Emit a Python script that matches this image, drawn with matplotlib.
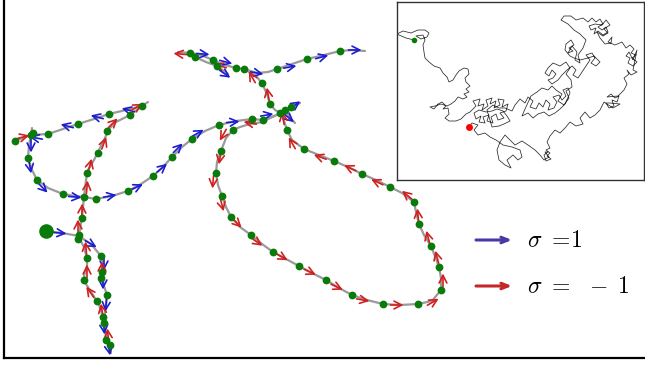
import numpy as np
import matplotlib
matplotlib.use("Agg")
import matplotlib.pyplot as plt

plt.rcParams['mathtext.fontset'] = 'cm'

# --- main walk (coordinates, y grows downward) ---
path_segments = [
    [(46, 231), (62, 233), (79, 236), (91, 244), (101, 256), (104, 266), (102, 275), (104, 286),
     (107, 295), (106, 306), (104, 320), (105, 330), (107, 340), (110, 347), (111, 353)],
    [(104, 320), (99, 305), (93, 295), (86, 284), (84, 276), (87, 266), (87, 258), (84, 247),
     (79, 238), (80, 228), (82, 218), (83, 207), (84, 197), (86, 180), (88, 170), (94, 160),
     (100, 148), (105, 138), (108, 130), (116, 122), (130, 115), (142, 106), (148, 102)],
    [(32, 128), (31, 135), (48, 134), (63, 129), (78, 124), (94, 119), (109, 114), (126, 110), (142, 106)],
    [(15, 141), (25, 137), (31, 135), (29, 145), (28, 158), (32, 170), (37, 180), (48, 188),
     (63, 194), (75, 196), (84, 197), (96, 199), (112, 196), (128, 191), (141, 184), (153, 176),
     (163, 167), (172, 157), (182, 147), (192, 139), (205, 131), (219, 125), (236, 121),
     (252, 119), (263, 120), (272, 117), (281, 113), (292, 107), (300, 103)],
    [(281, 113), (270, 118), (263, 122), (250, 124), (240, 127), (233, 130), (226, 138), (221, 151),
     (217, 162), (216, 173), (218, 185), (222, 196), (226, 207), (231, 217), (240, 227), (251, 235),
     (262, 244), (273, 252), (286, 259), (299, 266), (312, 273), (326, 280), (339, 288), (352, 295),
     (367, 300), (383, 304), (400, 305), (418, 304), (432, 301), (441, 290), (441, 278), (439, 267),
     (435, 256), (431, 246), (424, 235), (419, 224), (416, 212), (414, 202), (402, 193), (390, 187),
     (376, 180), (362, 174), (348, 167), (334, 161), (319, 155), (304, 149), (292, 140), (287, 130),
     (284, 121), (281, 113)],
    [(178, 52), (190, 53), (201, 55), (213, 60), (225, 65), (236, 68), (244, 69), (257, 73),
     (268, 72), (277, 69), (292, 64), (307, 59), (324, 55), (340, 51), (352, 50), (365, 51)],
    [(195, 57), (206, 62), (217, 66), (228, 74)],
    [(281, 113), (275, 110), (270, 104), (267, 94), (262, 83), (256, 76), (244, 69)],
    [(285, 110), (291, 119), (295, 123)],
]

dot_x = [79, 78, 101, 102, 101, 107, 103, 104, 106, 110, 87, 84, 97, 82,
         15, 31, 33, 48, 78, 109, 130, 142, 28, 37, 63, 84, 96, 128, 153, 172, 192, 87, 98, 107,
         190, 195, 213, 217, 236, 244, 277, 307, 340, 262, 270, 280, 285, 291, 287, 219, 233, 252, 263,
         304, 334, 362, 390, 414, 419, 431, 439, 441, 418, 383, 352, 326, 299, 273, 251, 231, 222, 216, 221]
dot_y = [235, 239, 256, 272, 278, 295, 317, 323, 340, 345, 258, 280, 301, 218,
         141, 135, 133, 134, 124, 114, 115, 106, 158, 180, 194, 197, 199, 191, 176, 157, 139, 173, 153, 131,
         53, 57, 60, 66, 68, 69, 69, 59, 51, 83, 104, 113, 110, 107, 130, 125, 130, 119, 120,
         149, 161, 174, 187, 202, 224, 246, 267, 290, 304, 304, 295, 280, 266, 252, 235, 217, 196, 173, 151]
start_x, start_y = 46, 231

# arrows: centre, screen angle (deg, counter-clockwise from right), spin
arr_x = [60, 91, 104, 103, 106, 104, 108, 109, 102, 102, 90, 87, 86, 78, 82,
         23, 36, 31, 67, 97, 128, 137, 113, 104, 90, 87, 30, 43, 75, 110, 137, 162, 178, 198,
         180, 203, 226, 220, 225, 257, 252, 268, 290, 322, 355,
         233, 250, 267, 223, 295, 289, 283,
         292, 320, 350, 377, 407, 418, 428, 437, 443, 433, 397, 363, 337, 310, 282, 257, 237, 222, 213, 220]
arr_y = [233, 244, 264, 283, 305, 328, 335, 349, 268, 310, 292, 271, 248, 226, 210,
         137, 138, 146, 126, 117, 110, 107, 123, 143, 165, 187, 167, 188, 197, 196, 187, 168, 148, 133,
         54, 54, 62, 66, 74, 73, 77, 94, 67, 57, 50,
         122, 123, 115, 135, 105, 118, 118,
         143, 157, 168, 182, 195, 215, 237, 257, 280, 302, 305, 300, 287, 272, 257, 242, 223, 205, 182, 158]
arr_ang = [-5, -30, -90, -90, -95, -85, 95, -80, 90, 100, 125, 90, 95, 90, 88,
           15, 170, -90, 165, 165, 165, 30, 45, 70, 75, 85, -80, -45, -5, 10, 25, 40, 45, 30,
           175, -5, -15, 165, -35, -10, 120, 100, 10, 15, 0,
           5, 170, 10, -120, 35, -40, 100,
           120, 160, 155, 155, 140, 95, 105, 105, 90, 30, 0, -10, -25, -25, -30, -35, -45, -75, -95, -100]
arr_sigma = [1, 1, 1, 1, 1, 1, -1, 1, -1, -1, -1, -1, -1, -1, -1,
             -1, 1, 1, 1, 1, 1, -1, -1, -1, -1, -1, 1, 1, 1, 1, 1, 1, 1, 1,
             -1, 1, 1, -1, 1, 1, -1, -1, 1, 1, 1,
             1, -1, 1, -1, 1, 1, -1,
             -1, -1, -1, -1, -1, -1, -1, -1, -1, -1, -1, -1, -1, -1, -1, -1, -1, -1, -1, -1]

# --- long walk in the inset, read as pieces in walking order ---
inset_head = [
    (414, 40), (406, 38), (399, 35), (397, 34), (403, 31), (411, 33), (418, 30), (425, 30), (429, 33),
    (427, 37), (421, 39), (416, 36), (423, 35), (425, 40), (423, 45), (424, 52), (425, 58), (429, 62),
    (434, 66), (440, 68), (443, 73), (447, 77), (449, 82), (453, 80), (456, 75), (459, 71), (464, 68),
    (468, 69), (469, 74), (465, 78), (466, 82), (470, 86), (466, 89), (469, 92), (464, 94), (467, 97),
    (463, 99), (458, 97), (455, 101), (451, 104), (447, 106), (441, 104), (435, 106), (430, 107),
    (434, 109), (438, 104), (442, 102), (446, 106), (443, 109), (448, 108), (449, 114), (445, 118),
    (449, 121), (456, 121), (461, 119),
]
inset_dense_left = [
    (466, 114), (470, 112), (476, 106), (473, 101), (480, 99), (478, 106), (484, 104), (482, 110),
    (488, 106), (486, 100), (492, 98), (490, 104), (496, 101), (494, 108), (500, 105), (498, 99),
    (504, 100), (502, 107), (508, 104), (506, 111), (500, 113), (504, 118), (498, 120), (496, 114),
    (491, 117), (493, 123), (487, 121), (489, 115), (483, 117), (485, 123), (479, 122), (481, 116),
    (476, 119), (474, 113), (479, 110), (486, 112), (492, 111), (497, 109), (503, 111), (507, 116),
    (510, 121), (504, 124), (499, 126), (492, 127), (487, 110), (493, 105), (499, 108), (505, 108),
]
inset_dense_mid = [
    (512, 111), (515, 105), (520, 99), (525, 103), (528, 97), (533, 101), (530, 107), (536, 109),
    (539, 103), (543, 107), (546, 100), (550, 104), (548, 110), (554, 108), (557, 102), (553, 97),
    (559, 95), (562, 100), (566, 96), (563, 90), (568, 88), (570, 93), (565, 104), (560, 109),
    (555, 113), (549, 116), (544, 112), (538, 114), (533, 118), (528, 113), (522, 116), (525, 109),
    (531, 96), (537, 92), (542, 88), (548, 90), (552, 86), (556, 90), (562, 94), (558, 101),
    (564, 105), (569, 98), (566, 91), (572, 87),
]
inset_up = [
    (571, 80), (566, 74), (570, 68), (566, 62), (560, 66), (553, 63), (548, 68), (545, 73),
    (549, 76), (552, 70), (556, 74), (553, 78), (548, 80), (552, 84), (558, 80), (562, 75),
    (567, 70), (572, 66), (576, 70), (573, 75), (578, 78), (582, 72), (586, 66), (590, 60),
    (586, 55), (592, 53), (595, 58), (591, 63), (596, 66), (600, 62), (594, 56), (588, 58),
    (580, 60), (574, 58), (570, 56), (565, 50), (566, 44), (571, 40), (574, 45), (569, 48),
    (573, 51), (568, 53), (572, 46), (577, 52), (575, 60), (580, 63), (578, 55), (583, 48),
    (586, 40), (580, 34), (574, 30), (568, 24), (561, 20), (564, 16), (571, 16), (576, 20),
    (583, 18), (588, 22), (592, 18), (596, 22), (600, 19), (603, 24), (598, 27), (602, 30),
    (606, 27), (608, 32), (603, 35), (598, 31), (594, 34), (596, 28), (591, 30), (589, 26),
    (595, 24), (602, 25), (606, 20), (610, 25), (604, 29), (608, 33), (603, 36), (597, 32),
    (600, 38), (605, 44), (611, 43), (612, 37), (608, 42), (615, 45),
]
inset_right = [
    (622, 42), (626, 48), (630, 45), (634, 49), (631, 53), (636, 55), (632, 58), (637, 62),
    (633, 66), (628, 63), (630, 58), (626, 56), (629, 52), (633, 60), (637, 50), (633, 70),
    (637, 72), (631, 75), (627, 70), (629, 74), (624, 78), (627, 84), (624, 90), (618, 96),
    (607, 97), (611, 94), (615, 98), (619, 96), (617, 102), (612, 100), (614, 106), (609, 108),
    (606, 103), (610, 103), (620, 104), (613, 108), (607, 104), (604, 102), (600, 110),
    (595, 115), (590, 118), (585, 112), (580, 118), (583, 124), (576, 126), (570, 122),
]
inset_tail = [
    (565, 128), (560, 133), (555, 130), (550, 136), (547, 142), (550, 148), (546, 150), (550, 153),
    (547, 156), (551, 159), (546, 161), (544, 155), (548, 152), (545, 152), (549, 157), (544, 160),
    (540, 155), (535, 150), (528, 145), (522, 141), (515, 145), (510, 140), (505, 135), (500, 142),
    (497, 150), (499, 160), (505, 165), (511, 168), (507, 160), (513, 155), (518, 160), (522, 157),
    (520, 150), (512, 147), (503, 145), (496, 140), (490, 137), (485, 133), (478, 135), (474, 130),
    (478, 125), (472, 123), (469, 127),
]
inset_start = (414, 40)
inset_end = (469, 127)

colors = {1: '#1c1cd0', -1: '#d02020'}

fig = plt.figure(figsize=(6.45, 3.66), dpi=100)
ax = fig.add_axes([3.5 / 645, 8 / 366, 1 - 3.5 / 645, 358 / 366])
ax.set_xlim(3.5, 645)
ax.set_ylim(358, 0)
ax.set_xticks([])
ax.set_yticks([])
for s in ['top', 'right']:
    ax.spines[s].set_visible(False)
for s in ['left', 'bottom']:
    ax.spines[s].set_linewidth(1.6)

for seg in path_segments:
    xs, ys = zip(*seg)
    ax.plot(xs, ys, color='#9a9a9a', lw=1.6, zorder=1, solid_capstyle='round')

L = 13
for x, y, a, s in zip(arr_x, arr_y, arr_ang, arr_sigma):
    dx = np.cos(np.radians(a)) * L / 2
    dy = -np.sin(np.radians(a)) * L / 2
    ax.annotate('', xy=(x + dx, y + dy), xytext=(x - dx, y - dy),
                arrowprops=dict(arrowstyle='->,head_length=0.55,head_width=0.28',
                                color=colors[s], lw=1.2, shrinkA=0, shrinkB=0), zorder=2)

ax.plot(dot_x, dot_y, 'o', color='#0a7a0a', ms=5.6, mec='none', zorder=3)
ax.plot(start_x, start_y, 'o', color='#0a7a0a', ms=10.5, mec='none', zorder=3)

# legend drawn by hand
leg_x = [476, 512]
ax.annotate('', xy=(leg_x[1], 240), xytext=(leg_x[0], 240),
            arrowprops=dict(arrowstyle='->,head_length=0.5,head_width=0.2', color='#4a3aa8', lw=2.2,
                            shrinkA=0, shrinkB=0))
ax.annotate('', xy=(leg_x[1], 286), xytext=(leg_x[0], 286),
            arrowprops=dict(arrowstyle='->,head_length=0.5,head_width=0.2', color='#c42828', lw=2.2,
                            shrinkA=0, shrinkB=0))
ax.text(527, 240, r'$\sigma\ =\!1$', fontsize=17, va='center', ha='left')
ax.text(527, 286, r'$\sigma\ =\;\;-\;1$', fontsize=17, va='center', ha='left')

# inset
axi = fig.add_axes([397 / 645, 1 - 180 / 366, 247 / 645, 178 / 366])
axi.set_xlim(397, 644)
axi.set_ylim(180, 2)
axi.set_xticks([])
axi.set_yticks([])
for s in axi.spines.values():
    s.set_linewidth(1.0)
    s.set_color('#333333')
inset_path = inset_head + inset_dense_left + inset_dense_mid + inset_up + inset_right + inset_tail
ix, iy = zip(*inset_path)
axi.plot(ix, iy, color='#2a2a2a', lw=0.55)
axi.plot(*inset_start, 'o', color='green', ms=4, mec='none')
axi.plot(*inset_end, 'o', color='red', ms=5, mec='none')

fig.savefig('out.png', dpi=100)
